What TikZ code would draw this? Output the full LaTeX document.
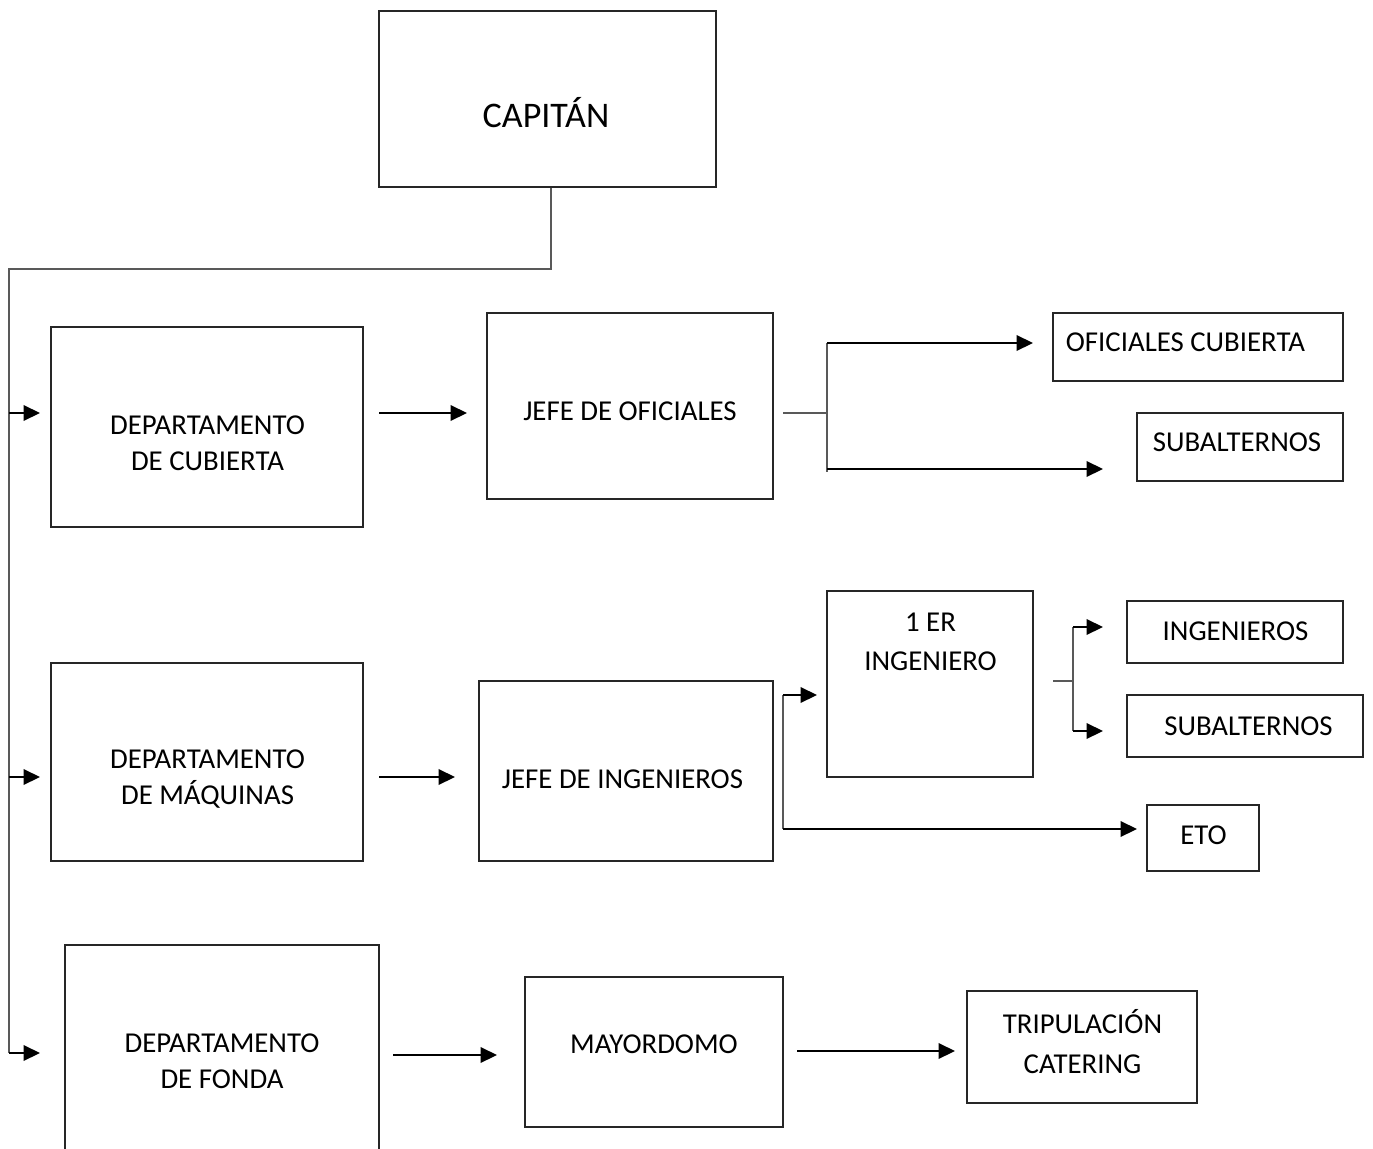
\documentclass[tikz,border=0pt]{standalone}
\usepackage{fontspec}
\setmainfont{Carlito}
\usetikzlibrary{arrows.meta}
\tikzset{
    box/.style={
           rectangle,
           draw=black!85, line width=1pt,
           inner sep=0pt,
           },
    boxtext/.style={
           align=center,
           inner sep=0pt,
           font=\fontsize{16.4}{20.4}\selectfont,
           },
    link/.style={draw=black!65, line width=0.6pt},
    arrow/.style={-{Triangle[length=0.33cm,width=0.31cm]}, line width=1.2pt},
}

\begin{document}
\begin{tikzpicture}[x=0.02cm,y=-0.02cm]
      \useasboundingbox (0,0) rectangle (1373,1149);
      \clip (0,0) rectangle (1373,1149);

      % CAPITAN
      \node[box, minimum width=6.74cm, minimum height=3.52cm] (cap) at (547.5,99) {};
      \node[boxtext, font=\fontsize{20.5}{24}\selectfont] (capT) at (546,113) {CAPITÁN};

      % DEPARTAMENTO DE CUBIERTA
      \node[box, minimum width=6.24cm, minimum height=4cm] (dcub) at (207,427) {};
      \node[boxtext] (dcubT) at (207.5,443) {DEPARTAMENTO\\DE CUBIERTA};

      % JEFE DE OFICIALES
      \node[box, minimum width=5.72cm, minimum height=3.72cm] (jofi) at (630,406) {};
      \node[boxtext] (jofiT) at (630,411) {JEFE DE OFICIALES};

      % OFICIALES CUBIERTA
      \node[box, minimum width=5.8cm, minimum height=1.36cm] (ofic) at (1198,347) {};
      \node[boxtext] (oficT) at (1185.5,342) {OFICIALES CUBIERTA};

      % SUBALTERNOS (CUBIERTA)
      \node[box, minimum width=4.12cm, minimum height=1.36cm] (subc) at (1240,447) {};
      \node[boxtext] (subcT) at (1237,442) {SUBALTERNOS};

      % DEPARTAMENTO DE MAQUINAS
      \node[box, minimum width=6.24cm, minimum height=3.96cm] (dmaq) at (207,762) {};
      \node[boxtext] (dmaqT) at (207.5,779) {DEPARTAMENTO\\DE MÁQUINAS};

      % JEFE DE INGENIEROS
      \node[box, minimum width=5.88cm, minimum height=3.6cm] (jing) at (626,771) {};
      \node[boxtext] (jingT) at (622.5,779) {JEFE DE INGENIEROS};

      % 1 ER INGENIERO
      \node[box, minimum width=4.12cm, minimum height=3.72cm] (ering) at (930,684) {};
      \node[boxtext] (eringT) at (930.5,642) {1 ER\\[2pt]INGENIERO};

      % INGENIEROS
      \node[box, minimum width=4.32cm, minimum height=1.24cm] (ings) at (1235,632) {};
      \node[boxtext] (ingsT) at (1235.5,631) {INGENIEROS};

      % SUBALTERNOS (MAQUINAS)
      \node[box, minimum width=4.72cm, minimum height=1.24cm] (subm) at (1245,726) {};
      \node[boxtext] (submT) at (1248.5,726) {SUBALTERNOS};

      % ETO
      \node[box, minimum width=2.24cm, minimum height=1.32cm] (eto) at (1203,838) {};
      \node[boxtext] (etoT) at (1203.5,835) {ETO};

      % DEPARTAMENTO DE FONDA (runs past the bottom edge)
      \node[box, minimum width=6.28cm, minimum height=4.7cm] (dfon) at (222,1062.5) {};
      \node[boxtext] (dfonT) at (222,1061.5) {DEPARTAMENTO\\DE FONDA};

      % MAYORDOMO
      \node[box, minimum width=5.16cm, minimum height=3cm] (mayo) at (654,1052) {};
      \node[boxtext] (mayoT) at (654,1044) {MAYORDOMO};

      % TRIPULACION CATERING
      \node[box, minimum width=4.6cm, minimum height=2.24cm] (trip) at (1082,1047) {};
      \node[boxtext] (tripT) at (1082.5,1041.5) {TRIPULACIÓN\\[2.8pt]CATERING};

      % trunk from the captain down the left side
      \coordinate (capdrop) at (551,269);
      \coordinate (trunktop) at (9,269);
      \coordinate (tcub) at (9,413);
      \coordinate (tmaq) at (9,777);
      \coordinate (tfon) at (9,1053);
      \draw[link] (cap.south -| capdrop) -- (capdrop) -- (trunktop) -- (tfon);
      \draw[arrow] (tcub) -- (40,413);
      \draw[arrow] (tmaq) -- (40,777);
      \draw[arrow] (tfon) -- (40,1053);

      % departments to their chiefs
      \draw[arrow] (379,413) -- (467,413);
      \draw[arrow] (379,777) -- (455,777);
      \draw[arrow] (393,1055) -- (497,1055);
      \draw[arrow] (797,1051) -- (955,1051);

      % fork after the jefe de oficiales
      \coordinate (fofi) at (827,413);
      \draw[link] (783,413) -- (fofi);
      \draw[link, line width=0.9pt] (827,343) -- (827,472);
      \draw[arrow] (827,343) -- (1033,343);
      \draw[arrow] (827,469) -- (1103,469);

      % fork after the jefe de ingenieros
      \coordinate (fing) at (783,695);
      \draw[link, line width=0.9pt] (fing) -- (783,829);
      \draw[arrow] (fing) -- (817,695);
      \draw[arrow] (783,829) -- (1137,829);

      % fork after the 1 er ingeniero
      \coordinate (fer) at (1073,681);
      \draw[link] (1053,681) -- (fer);
      \draw[link, line width=0.9pt] (1073,627) -- (1073,731);
      \draw[arrow] (1073,627) -- (1103,627);
      \draw[arrow] (1073,731) -- (1103,731);
\end{tikzpicture}
\end{document}
